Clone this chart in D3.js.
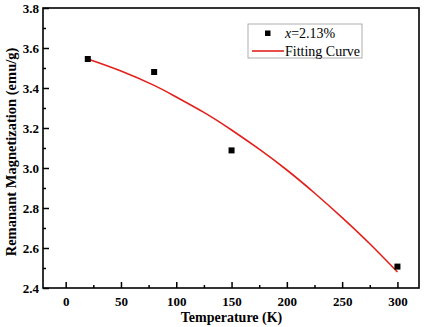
<!DOCTYPE html>
<meta charset="utf-8">
<title>Remanant Magnetization</title>
<style>

body {
  margin: 0;
  background: #fff;
}

svg text {
  font-family: "Times New Roman", "Liberation Serif", "DejaVu Serif", serif !important;
}

</style>
<body>
  <script src="https://d3js.org/d3.v7.min.js"></script>
  <script>

  const width = 426;
  const height = 327;
  const margin = {top: 8, right: 7, bottom: 39, left: 43};
  const serif = "'Times New Roman', 'Liberation Serif', serif";

  // measured points
  const temps = [20, 80, 150, 300];
  const moments = [3.545, 3.48, 3.088, 2.507];

  // fitting curve
  const fitTemps = [20, 50, 80, 100, 125, 150, 175, 200, 225, 250, 275, 300];
  const fitMoments = [3.545, 3.485, 3.413, 3.355, 3.278, 3.19, 3.094, 2.99, 2.875, 2.752, 2.621, 2.48];

  const xTicks = [0, 50, 100, 150, 200, 250, 300];
  const yTicks = [2.4, 2.6, 2.8, 3.0, 3.2, 3.4, 3.6, 3.8];

  const svg = d3.select("body").append("svg")
      .attr("width", width)
      .attr("height", height)
      .attr("font-family", serif);

  const x = d3.scaleLinear()
      .domain([-20.5, 319.5])
      .range([margin.left, width - margin.right]);

  const y = d3.scaleLinear()
      .domain([2.4, 3.8])
      .range([height - margin.bottom, margin.top]);

  const plotH = height - margin.top - margin.bottom;

  /* x axis: ticks point inward */
  svg.append("g")
      .attr("transform", "translate(0," + (height - margin.bottom) + ")")
      .call(d3.axisBottom(x).tickValues(xTicks).tickSize(-6).tickPadding(9).tickFormat(d3.format("d")));

  svg.append("g")
      .attr("transform", "translate(0," + (height - margin.bottom) + ")")
      .call(d3.axisBottom(x).tickValues(d3.range(25, 300, 50)).tickSize(-3).tickFormat(""));

  svg.append("g")
      .attr("transform", "translate(" + margin.left + ",0)")
      .call(d3.axisLeft(y).tickValues(yTicks).tickSize(-6).tickPadding(4).tickFormat(d3.format(".1f")));

  svg.append("g")
      .attr("transform", "translate(" + margin.left + ",0)")
      .call(d3.axisLeft(y).tickValues(d3.range(2.5, 3.8, 0.2)).tickSize(-3).tickFormat(""));

  svg.selectAll(".domain").remove();
  svg.selectAll("g").attr("font-family", serif);
  svg.selectAll(".tick line").attr("stroke", "#000").attr("stroke-width", 1.5);
  svg.selectAll(".tick text")
      .attr("fill", "#000")
      .attr("font-size", 13)
      .attr("font-weight", "bold");

  /* frame */
  svg.append("rect")
      .attr("x", margin.left)
      .attr("y", margin.top)
      .attr("width", width - margin.left - margin.right)
      .attr("height", plotH)
      .attr("fill", "none")
      .attr("stroke", "#000")
      .attr("stroke-width", 1.6);

  /* fitting curve */
  const fit = fitTemps.map((t, i) => [t, fitMoments[i]]);
  svg.append("path")
      .datum(fit)
      .attr("fill", "none")
      .attr("stroke", "#e3211c")
      .attr("stroke-width", 1.6)
      .attr("d", d3.line().x(d => x(d[0])).y(d => y(d[1])).curve(d3.curveNatural));

  /* points */
  const pts = temps.map((t, i) => [t, moments[i]]);
  svg.selectAll(".pt")
      .data(pts)
    .enter().append("rect")
      .attr("class", "pt")
      .attr("x", d => x(d[0]) - 3)
      .attr("y", d => y(d[1]) - 3)
      .attr("width", 6)
      .attr("height", 6)
      .attr("fill", "#000");

  /* legend */
  const legend = svg.append("g");
  legend.append("rect")
      .attr("x", 248)
      .attr("y", 24)
      .attr("width", 114)
      .attr("height", 34)
      .attr("fill", "#fff")
      .attr("stroke", "#999")
      .attr("stroke-width", 0.8);
  legend.append("rect")
      .attr("x", 265)
      .attr("y", 30.5)
      .attr("width", 5.5)
      .attr("height", 5.5)
      .attr("fill", "#000");
  const t1 = legend.append("text")
      .attr("x", 285)
      .attr("y", 38)
      .attr("font-size", 14);
  t1.append("tspan").attr("font-style", "italic").text("x");
  t1.append("tspan").text("=2.13%");
  legend.append("line")
      .attr("x1", 252)
      .attr("x2", 284)
      .attr("y1", 51)
      .attr("y2", 51)
      .attr("stroke", "#e3211c")
      .attr("stroke-width", 1.6);
  legend.append("text")
      .attr("x", 285)
      .attr("y", 55.5)
      .attr("font-size", 14)
      .text("Fitting Curve");

  /* axis titles */
  svg.append("text")
      .attr("x", x(150))
      .attr("y", 322)
      .attr("text-anchor", "middle")
      .attr("font-size", 14)
      .attr("font-weight", "bold")
      .text("Temperature (K)");

  svg.append("text")
      .attr("transform", "translate(16," + (margin.top + plotH / 2 + 4) + ")rotate(-90)")
      .attr("text-anchor", "middle")
      .attr("font-size", 14.5)
      .attr("font-weight", "bold")
      .text("Remanant Magnetization (emu/g)");

  </script>
</body>
